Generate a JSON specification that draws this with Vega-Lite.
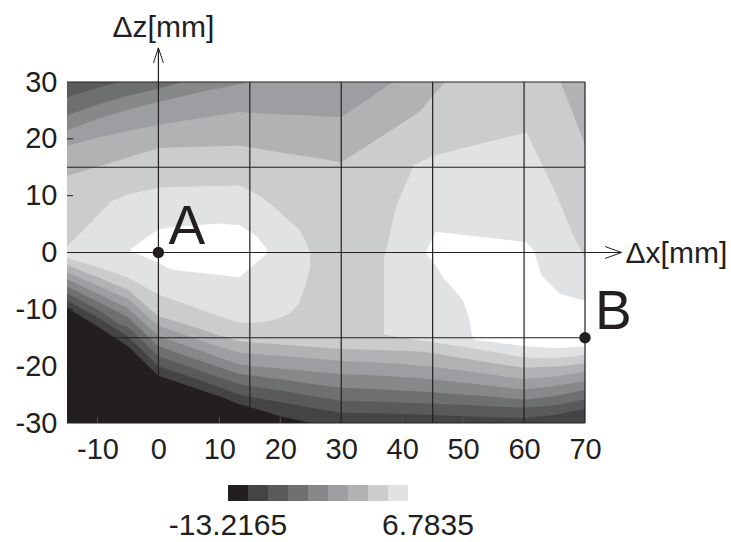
{
  "$schema": "https://vega.github.io/schema/vega-lite/v6.json",
  "width": 518,
  "height": 341,
  "autosize": {"type": "none"},
  "padding": {"left": 67, "top": 82, "right": 146, "bottom": 119},
  "background": "#ffffff",
  "config": {
    "view": {"stroke": null},
    "font": "Liberation Sans",
    "axis": {
      "labelFont": "Liberation Sans",
      "labelFontSize": 29,
      "labelColor": "#231f20",
      "labelFlush": false,
      "labelOverlap": false,
      "domain": false,
      "grid": false,
      "ticks": false,
      "labelPadding": 12
    }
  },
  "datasets": {
    "bands": [
      {"v": -12.2165, "poly": "a", "x": -15, "lo": -30, "hi": 30},
      {"v": -12.2165, "poly": "a", "x": 70, "lo": -30, "hi": 30},

      {"v": -10.2165, "poly": "a", "x": -15, "lo": -9.7, "hi": 30},
      {"v": -10.2165, "poly": "a", "x": -10, "lo": -13, "hi": 30},
      {"v": -10.2165, "poly": "a", "x": -5, "lo": -16.5, "hi": 30},
      {"v": -10.2165, "poly": "a", "x": 0, "lo": -21.7, "hi": 30},
      {"v": -10.2165, "poly": "a", "x": 5, "lo": -23.5, "hi": 30},
      {"v": -10.2165, "poly": "a", "x": 10, "lo": -25.3, "hi": 30},
      {"v": -10.2165, "poly": "a", "x": 13.3, "lo": -26.7, "hi": 30},
      {"v": -10.2165, "poly": "a", "x": 15, "lo": -27.2, "hi": 30},
      {"v": -10.2165, "poly": "a", "x": 20, "lo": -28.8, "hi": 30},
      {"v": -10.2165, "poly": "a", "x": 25, "lo": -30, "hi": 30},
      {"v": -10.2165, "poly": "a", "x": 70, "lo": -30, "hi": 30},

      {"v": -8.2165, "poly": "a", "x": -15, "lo": -8.5, "hi": 30},
      {"v": -8.2165, "poly": "a", "x": -10, "lo": -11.4, "hi": 30},
      {"v": -8.2165, "poly": "a", "x": -5, "lo": -14.8, "hi": 30},
      {"v": -8.2165, "poly": "a", "x": 0, "lo": -20, "hi": 30},
      {"v": -8.2165, "poly": "a", "x": 5, "lo": -21.8, "hi": 30},
      {"v": -8.2165, "poly": "a", "x": 10, "lo": -23.7, "hi": 30},
      {"v": -8.2165, "poly": "a", "x": 13.3, "lo": -25, "hi": 30},
      {"v": -8.2165, "poly": "a", "x": 15, "lo": -25.4, "hi": 30},
      {"v": -8.2165, "poly": "a", "x": 20, "lo": -26.3, "hi": 30},
      {"v": -8.2165, "poly": "a", "x": 25, "lo": -27.3, "hi": 30},
      {"v": -8.2165, "poly": "a", "x": 30, "lo": -28.2, "hi": 30},
      {"v": -8.2165, "poly": "a", "x": 35, "lo": -28.3, "hi": 30},
      {"v": -8.2165, "poly": "a", "x": 40, "lo": -28.4, "hi": 30},
      {"v": -8.2165, "poly": "a", "x": 45, "lo": -28.6, "hi": 30},
      {"v": -8.2165, "poly": "a", "x": 50, "lo": -28.8, "hi": 30},
      {"v": -8.2165, "poly": "a", "x": 55, "lo": -29, "hi": 30},
      {"v": -8.2165, "poly": "a", "x": 60, "lo": -29.1, "hi": 30},
      {"v": -8.2165, "poly": "a", "x": 65, "lo": -28.6, "hi": 30},
      {"v": -8.2165, "poly": "a", "x": 70, "lo": -27.5, "hi": 30},

      {"v": -6.2165, "poly": "a", "x": -15, "lo": -7.2, "hi": 27.3},
      {"v": -6.2165, "poly": "a", "x": -10, "lo": -10, "hi": 29},
      {"v": -6.2165, "poly": "a", "x": -6.5, "lo": -12.6, "hi": 30},
      {"v": -6.2165, "poly": "a", "x": -5, "lo": -13.1, "hi": 30},
      {"v": -6.2165, "poly": "a", "x": 0, "lo": -18.2, "hi": 30},
      {"v": -6.2165, "poly": "a", "x": 5, "lo": -20.1, "hi": 30},
      {"v": -6.2165, "poly": "a", "x": 10, "lo": -22, "hi": 30},
      {"v": -6.2165, "poly": "a", "x": 13.3, "lo": -23.2, "hi": 30},
      {"v": -6.2165, "poly": "a", "x": 15, "lo": -23.5, "hi": 30},
      {"v": -6.2165, "poly": "a", "x": 20, "lo": -24.3, "hi": 30},
      {"v": -6.2165, "poly": "a", "x": 25, "lo": -25.2, "hi": 30},
      {"v": -6.2165, "poly": "a", "x": 30, "lo": -26.1, "hi": 30},
      {"v": -6.2165, "poly": "a", "x": 35, "lo": -26.2, "hi": 30},
      {"v": -6.2165, "poly": "a", "x": 40, "lo": -26.4, "hi": 30},
      {"v": -6.2165, "poly": "a", "x": 45, "lo": -26.6, "hi": 30},
      {"v": -6.2165, "poly": "a", "x": 50, "lo": -26.8, "hi": 30},
      {"v": -6.2165, "poly": "a", "x": 55, "lo": -27.1, "hi": 30},
      {"v": -6.2165, "poly": "a", "x": 60, "lo": -27.3, "hi": 30},
      {"v": -6.2165, "poly": "a", "x": 65, "lo": -26.9, "hi": 30},
      {"v": -6.2165, "poly": "a", "x": 70, "lo": -25.8, "hi": 30},

      {"v": -4.2165, "poly": "a", "x": -15, "lo": -6, "hi": 24.1},
      {"v": -4.2165, "poly": "a", "x": -10, "lo": -8.6, "hi": 26},
      {"v": -4.2165, "poly": "a", "x": -5, "lo": -11.4, "hi": 27.6},
      {"v": -4.2165, "poly": "a", "x": 0, "lo": -16.5, "hi": 28.8},
      {"v": -4.2165, "poly": "a", "x": 4, "lo": -18, "hi": 30},
      {"v": -4.2165, "poly": "a", "x": 10, "lo": -20.2, "hi": 30},
      {"v": -4.2165, "poly": "a", "x": 13.3, "lo": -21.4, "hi": 30},
      {"v": -4.2165, "poly": "a", "x": 15, "lo": -21.6, "hi": 30},
      {"v": -4.2165, "poly": "a", "x": 20, "lo": -22.3, "hi": 30},
      {"v": -4.2165, "poly": "a", "x": 25, "lo": -23.1, "hi": 30},
      {"v": -4.2165, "poly": "a", "x": 30, "lo": -23.8, "hi": 30},
      {"v": -4.2165, "poly": "a", "x": 35, "lo": -24, "hi": 30},
      {"v": -4.2165, "poly": "a", "x": 40, "lo": -24.3, "hi": 30},
      {"v": -4.2165, "poly": "a", "x": 45, "lo": -24.6, "hi": 30},
      {"v": -4.2165, "poly": "a", "x": 50, "lo": -25, "hi": 30},
      {"v": -4.2165, "poly": "a", "x": 55, "lo": -25.4, "hi": 30},
      {"v": -4.2165, "poly": "a", "x": 60, "lo": -25.9, "hi": 30},
      {"v": -4.2165, "poly": "a", "x": 65, "lo": -25.3, "hi": 30},
      {"v": -4.2165, "poly": "a", "x": 70, "lo": -24.2, "hi": 30},

      {"v": -2.2165, "poly": "a", "x": -15, "lo": -4.7, "hi": 21.5},
      {"v": -2.2165, "poly": "a", "x": -10, "lo": -7.2, "hi": 23.5},
      {"v": -2.2165, "poly": "a", "x": -5, "lo": -9.8, "hi": 25.1},
      {"v": -2.2165, "poly": "a", "x": 0, "lo": -14.7, "hi": 26.5},
      {"v": -2.2165, "poly": "a", "x": 5, "lo": -16.6, "hi": 27.75},
      {"v": -2.2165, "poly": "a", "x": 8, "lo": -17.7, "hi": 28.5},
      {"v": -2.2165, "poly": "a", "x": 10, "lo": -18.5, "hi": 28.9},
      {"v": -2.2165, "poly": "a", "x": 13.3, "lo": -19.7, "hi": 29.6},
      {"v": -2.2165, "poly": "a", "x": 15, "lo": -19.9, "hi": 30},
      {"v": -2.2165, "poly": "a", "x": 20, "lo": -20.4, "hi": 30},
      {"v": -2.2165, "poly": "a", "x": 25, "lo": -20.9, "hi": 30},
      {"v": -2.2165, "poly": "a", "x": 30, "lo": -21.4, "hi": 30},
      {"v": -2.2165, "poly": "a", "x": 35, "lo": -21.6, "hi": 30},
      {"v": -2.2165, "poly": "a", "x": 40, "lo": -21.9, "hi": 30},
      {"v": -2.2165, "poly": "a", "x": 45, "lo": -22.3, "hi": 30},
      {"v": -2.2165, "poly": "a", "x": 50, "lo": -22.9, "hi": 30},
      {"v": -2.2165, "poly": "a", "x": 55, "lo": -23.5, "hi": 30},
      {"v": -2.2165, "poly": "a", "x": 60, "lo": -24.1, "hi": 30},
      {"v": -2.2165, "poly": "a", "x": 65, "lo": -23.5, "hi": 30},
      {"v": -2.2165, "poly": "a", "x": 70, "lo": -22.6, "hi": 30},

      {"v": -0.2165, "poly": "a", "x": -15, "lo": -3.5, "hi": 18.8},
      {"v": -0.2165, "poly": "a", "x": -10, "lo": -5.8, "hi": 20.2},
      {"v": -0.2165, "poly": "a", "x": -5, "lo": -8.2, "hi": 21.4},
      {"v": -0.2165, "poly": "a", "x": 0, "lo": -12.9, "hi": 22.5},
      {"v": -0.2165, "poly": "a", "x": 5, "lo": -14.8, "hi": 23.3},
      {"v": -0.2165, "poly": "a", "x": 10, "lo": -16.6, "hi": 24.2},
      {"v": -0.2165, "poly": "a", "x": 13.3, "lo": -17.6, "hi": 24.7},
      {"v": -0.2165, "poly": "a", "x": 15, "lo": -17.8, "hi": 24.6},
      {"v": -0.2165, "poly": "a", "x": 20, "lo": -18.2, "hi": 24.3},
      {"v": -0.2165, "poly": "a", "x": 25, "lo": -18.6, "hi": 24.1},
      {"v": -0.2165, "poly": "a", "x": 30, "lo": -19.1, "hi": 23.8},
      {"v": -0.2165, "poly": "a", "x": 35, "lo": -19.3, "hi": 27.4},
      {"v": -0.2165, "poly": "a", "x": 38.5, "lo": -19.5, "hi": 30},
      {"v": -0.2165, "poly": "a", "x": 40, "lo": -19.6, "hi": 30},
      {"v": -0.2165, "poly": "a", "x": 45, "lo": -20.1, "hi": 30},
      {"v": -0.2165, "poly": "a", "x": 50, "lo": -20.8, "hi": 30},
      {"v": -0.2165, "poly": "a", "x": 55, "lo": -21.5, "hi": 30},
      {"v": -0.2165, "poly": "a", "x": 60, "lo": -22.3, "hi": 30},
      {"v": -0.2165, "poly": "a", "x": 65, "lo": -21.8, "hi": 30},
      {"v": -0.2165, "poly": "a", "x": 70, "lo": -21, "hi": 30},

      {"v": 1.7835, "poly": "a", "x": -15, "lo": -2.2, "hi": 13.5},
      {"v": 1.7835, "poly": "a", "x": -10, "lo": -4.3, "hi": 15.1},
      {"v": 1.7835, "poly": "a", "x": -5, "lo": -6.6, "hi": 16.7},
      {"v": 1.7835, "poly": "a", "x": 0, "lo": -11.2, "hi": 18.4},
      {"v": 1.7835, "poly": "a", "x": 5, "lo": -12.8, "hi": 18.55},
      {"v": 1.7835, "poly": "a", "x": 10, "lo": -14.6, "hi": 18.7},
      {"v": 1.7835, "poly": "a", "x": 13.3, "lo": -15.6, "hi": 18.8},
      {"v": 1.7835, "poly": "a", "x": 15, "lo": -15.8, "hi": 18.5},
      {"v": 1.7835, "poly": "a", "x": 20, "lo": -16.2, "hi": 17.6},
      {"v": 1.7835, "poly": "a", "x": 25, "lo": -16.6, "hi": 16.8},
      {"v": 1.7835, "poly": "a", "x": 30, "lo": -17, "hi": 15.9},
      {"v": 1.7835, "poly": "a", "x": 35, "lo": -17.1, "hi": 19.3},
      {"v": 1.7835, "poly": "a", "x": 40, "lo": -17.3, "hi": 22.8},
      {"v": 1.7835, "poly": "a", "x": 42.8, "lo": -17.4, "hi": 24.7},
      {"v": 1.7835, "poly": "a", "x": 45, "lo": -17.7, "hi": 27.5},
      {"v": 1.7835, "poly": "a", "x": 47, "lo": -18.1, "hi": 30},
      {"v": 1.7835, "poly": "a", "x": 50, "lo": -18.6, "hi": 30},
      {"v": 1.7835, "poly": "a", "x": 55, "lo": -19.5, "hi": 30},
      {"v": 1.7835, "poly": "a", "x": 60, "lo": -20.3, "hi": 30},
      {"v": 1.7835, "poly": "a", "x": 66, "lo": -20, "hi": 30},
      {"v": 1.7835, "poly": "a", "x": 70, "lo": -19.5, "hi": 19},

      {"v": 3.7835, "poly": "L", "x": -15, "lo": -1, "hi": 1},
      {"v": 3.7835, "poly": "L", "x": -10, "lo": -2.5, "hi": 6.5},
      {"v": 3.7835, "poly": "L", "x": -7.7, "lo": -3.4, "hi": 9},
      {"v": 3.7835, "poly": "L", "x": -5, "lo": -4.4, "hi": 10.2},
      {"v": 3.7835, "poly": "L", "x": 0, "lo": -7.4, "hi": 11.4},
      {"v": 3.7835, "poly": "L", "x": 5, "lo": -9.3, "hi": 11.6},
      {"v": 3.7835, "poly": "L", "x": 10, "lo": -11.2, "hi": 11.7},
      {"v": 3.7835, "poly": "L", "x": 13.3, "lo": -12.35, "hi": 11.8},
      {"v": 3.7835, "poly": "L", "x": 16.6, "lo": -12.3, "hi": 10},
      {"v": 3.7835, "poly": "L", "x": 18.8, "lo": -11.9, "hi": 8.2},
      {"v": 3.7835, "poly": "L", "x": 21.5, "lo": -10.8, "hi": 5.5},
      {"v": 3.7835, "poly": "L", "x": 23.1, "lo": -8.9, "hi": 4.1},
      {"v": 3.7835, "poly": "L", "x": 24.2, "lo": -5.5, "hi": 1.8},
      {"v": 3.7835, "poly": "L", "x": 24.9, "lo": -2.5, "hi": 0},
      {"v": 3.7835, "poly": "R", "x": 37, "lo": -14.4, "hi": -1},
      {"v": 3.7835, "poly": "R", "x": 37.4, "lo": -14.5, "hi": 0.5},
      {"v": 3.7835, "poly": "R", "x": 39, "lo": -14.8, "hi": 8.2},
      {"v": 3.7835, "poly": "R", "x": 42, "lo": -15.3, "hi": 15.5},
      {"v": 3.7835, "poly": "R", "x": 45, "lo": -15.8, "hi": 17},
      {"v": 3.7835, "poly": "R", "x": 50, "lo": -16.6, "hi": 18.4},
      {"v": 3.7835, "poly": "R", "x": 55, "lo": -17.5, "hi": 19.7},
      {"v": 3.7835, "poly": "R", "x": 60.4, "lo": -18.5, "hi": 21.1},
      {"v": 3.7835, "poly": "R", "x": 64.8, "lo": -18.6, "hi": 11.4},
      {"v": 3.7835, "poly": "R", "x": 68, "lo": -18.3, "hi": 3.2},
      {"v": 3.7835, "poly": "R", "x": 70, "lo": -18, "hi": -1},

      {"v": 5.7835, "poly": "L", "x": -4.5, "lo": 0.2, "hi": 0.6},
      {"v": 5.7835, "poly": "L", "x": -2, "lo": -0.9, "hi": 2.6},
      {"v": 5.7835, "poly": "L", "x": 0, "lo": -1.8, "hi": 4.1},
      {"v": 5.7835, "poly": "L", "x": 2, "lo": -3, "hi": 4.4},
      {"v": 5.7835, "poly": "L", "x": 5, "lo": -3.4, "hi": 4.7},
      {"v": 5.7835, "poly": "L", "x": 10, "lo": -3.9, "hi": 5.1},
      {"v": 5.7835, "poly": "L", "x": 13.3, "lo": -4.4, "hi": 4.8},
      {"v": 5.7835, "poly": "L", "x": 16, "lo": -1.8, "hi": 3},
      {"v": 5.7835, "poly": "L", "x": 17.8, "lo": -0.2, "hi": 0.6},
      {"v": 5.7835, "poly": "R", "x": 44, "lo": -0.2, "hi": 0.3},
      {"v": 5.7835, "poly": "R", "x": 45.5, "lo": -2.3, "hi": 3.6},
      {"v": 5.7835, "poly": "R", "x": 46.7, "lo": -4.4, "hi": 3.5},
      {"v": 5.7835, "poly": "R", "x": 48.5, "lo": -6.5, "hi": 3.3},
      {"v": 5.7835, "poly": "R", "x": 50, "lo": -8.5, "hi": 3.1},
      {"v": 5.7835, "poly": "R", "x": 51, "lo": -11.5, "hi": 3},
      {"v": 5.7835, "poly": "R", "x": 51.4, "lo": -14.4, "hi": 2.95},
      {"v": 5.7835, "poly": "R", "x": 51.7, "lo": -15.3, "hi": 2.9},
      {"v": 5.7835, "poly": "R", "x": 55, "lo": -15.8, "hi": 2.5},
      {"v": 5.7835, "poly": "R", "x": 60.4, "lo": -16.5, "hi": 1.8},
      {"v": 5.7835, "poly": "R", "x": 61.6, "lo": -16.6, "hi": 0.3},
      {"v": 5.7835, "poly": "R", "x": 62.9, "lo": -16.7, "hi": -4.1},
      {"v": 5.7835, "poly": "R", "x": 65.9, "lo": -16.8, "hi": -7.3},
      {"v": 5.7835, "poly": "R", "x": 70, "lo": -16.5, "hi": -8.5}
    ],
    "vlines": [
      {"x": 0, "z1": -30, "z2": 36},
      {"x": 15, "z1": -30, "z2": 30},
      {"x": 30, "z1": -30, "z2": 30},
      {"x": 45, "z1": -30, "z2": 30},
      {"x": 60, "z1": -30, "z2": 30},
      {"x": 70, "z1": -30, "z2": 30}
    ],
    "hlines": [
      {"z": 0, "x1": -15, "x2": 76},
      {"z": 15, "x1": -15, "x2": 70},
      {"z": -15, "x1": -15, "x2": 70},
      {"z": 30, "x1": -15, "x2": 70},
      {"z": -30, "x1": -15, "x2": 70}
    ],
    "xticks": [
      {"x": -10, "z1": -30, "z2": -29}, {"x": 10, "z1": -30, "z2": -29}, {"x": 20, "z1": -30, "z2": -29},
      {"x": 40, "z1": -30, "z2": -29}, {"x": 50, "z1": -30, "z2": -29}
    ],
    "zticks": [
      {"z": -20, "x1": -15, "x2": -14}, {"z": -10, "x1": -15, "x2": -14},
      {"z": 10, "x1": -15, "x2": -14}, {"z": 20, "x1": -15, "x2": -14}
    ],
    "arrows": [
      {"x": 0, "z": 36, "dir": "up", "label": "Δz[mm]"},
      {"x": 76, "z": 0, "dir": "right", "label": "Δx[mm]"}
    ],
    "points": [
      {"x": 0, "z": 0, "label": "A"},
      {"x": 70, "z": -15, "label": "B"}
    ]
  },
  "layer": [
    {
      "data": {"name": "bands"},
      "encoding": {
        "x": {"field": "x", "type": "quantitative", "title": null, "scale": {"domain": [-15, 70], "nice": false, "zero": false}},
        "y": {"field": "lo", "type": "quantitative", "title": null, "stack": null, "scale": {"domain": [-30, 30], "nice": false, "zero": false}},
        "y2": {"field": "hi"},
        "detail": {"field": "poly"},
        "color": {
          "field": "v", "type": "quantitative",
          "scale": {"type": "quantize", "domain": [-13.2165, 6.7835], "nice": false, "zero": false,
                    "range": ["#231f20", "#444345", "#5a5a5c", "#6e6f71", "#87888a", "#9d9ea1", "#b1b2b4", "#cbcccd", "#e1e2e4", "#ffffff"]},
          "legend": {
            "orient": "none", "legendX": 161, "legendY": 403, "direction": "horizontal", "title": null,
            "gradientLength": 195, "gradientThickness": 20, "padding": 0,
            "values": [-13.3, -13.21649, -11.2155, -9.2155, -7.2155, -5.2155, -3.2155, -1.2155, 0.7845, 2.7845, 4.7845, 6.78349],
            "labelFont": "Liberation Sans", "labelFontSize": 30, "labelColor": "#231f20",
            "labelOffset": 10, "labelOverlap": false,
            "labelExpr": "abs(datum.value + 13.2165) < 0.001 || abs(datum.value - 6.7835) < 0.001 ? replace(format(datum.value, '.4f'), '\u2212', '-') : ''"
          }
        }
      },
      "layer": [
        {"transform": [{"filter": {"field": "v", "equal": -12.2165}}], "mark": {"type": "area", "opacity": 1}},
        {"transform": [{"filter": {"field": "v", "equal": -10.2165}}], "mark": {"type": "area", "opacity": 1}},
        {"transform": [{"filter": {"field": "v", "equal": -8.2165}}], "mark": {"type": "area", "opacity": 1}},
        {"transform": [{"filter": {"field": "v", "equal": -6.2165}}], "mark": {"type": "area", "opacity": 1}},
        {"transform": [{"filter": {"field": "v", "equal": -4.2165}}], "mark": {"type": "area", "opacity": 1}},
        {"transform": [{"filter": {"field": "v", "equal": -2.2165}}], "mark": {"type": "area", "opacity": 1}},
        {"transform": [{"filter": {"field": "v", "equal": -0.2165}}], "mark": {"type": "area", "opacity": 1}},
        {"transform": [{"filter": {"field": "v", "equal": 1.7835}}], "mark": {"type": "area", "opacity": 1}},
        {"transform": [{"filter": {"field": "v", "equal": 3.7835}}], "mark": {"type": "area", "opacity": 1}},
        {"transform": [{"filter": {"field": "v", "equal": 5.7835}}], "mark": {"type": "area", "opacity": 1}}
      ]
    },
    {
      "data": {"name": "vlines"},
      "mark": {"type": "rule", "color": "#231f20", "strokeWidth": 1.2},
      "encoding": {
        "x": {"field": "x", "type": "quantitative", "title": null, "scale": {"domain": [-15, 70], "nice": false, "zero": false}},
        "y": {"field": "z1", "type": "quantitative", "title": null, "scale": {"domain": [-30, 30], "nice": false, "zero": false}},
        "y2": {"field": "z2"}
      }
    },
    {
      "data": {"name": "hlines"},
      "mark": {"type": "rule", "color": "#231f20", "strokeWidth": 1.2},
      "encoding": {
        "y": {"field": "z", "type": "quantitative", "title": null, "scale": {"domain": [-30, 30], "nice": false, "zero": false}},
        "x": {"field": "x1", "type": "quantitative", "title": null, "scale": {"domain": [-15, 70], "nice": false, "zero": false}},
        "x2": {"field": "x2"}
      }
    },
    {
      "data": {"name": "xticks"},
      "mark": {"type": "rule", "color": "#555555", "strokeWidth": 1},
      "encoding": {
        "x": {"field": "x", "type": "quantitative", "title": null, "scale": {"domain": [-15, 70], "nice": false, "zero": false}},
        "y": {"field": "z1", "type": "quantitative", "title": null, "scale": {"domain": [-30, 30], "nice": false, "zero": false}},
        "y2": {"field": "z2"}
      }
    },
    {
      "data": {"name": "zticks"},
      "mark": {"type": "rule", "color": "#231f20", "strokeWidth": 1},
      "encoding": {
        "y": {"field": "z", "type": "quantitative", "title": null, "scale": {"domain": [-30, 30], "nice": false, "zero": false}},
        "x": {"field": "x1", "type": "quantitative", "title": null, "scale": {"domain": [-15, 70], "nice": false, "zero": false}},
        "x2": {"field": "x2"}
      }
    },
    {
      "data": {"name": "arrows"},
      "mark": {"type": "point", "filled": false, "stroke": "#231f20", "strokeWidth": 1, "size": 225, "opacity": 1},
      "encoding": {
        "x": {"field": "x", "type": "quantitative", "title": null, "scale": {"domain": [-15, 70], "nice": false, "zero": false}},
        "y": {"field": "z", "type": "quantitative", "title": null, "scale": {"domain": [-30, 30], "nice": false, "zero": false}},
        "shape": {"field": "dir", "type": "nominal", "legend": null,
                  "scale": {"domain": ["up", "right"], "range": ["M -0.66 2 L 0 0 L 0.66 2", "M -2.2 -0.8 L 0 0 L -2.2 0.8"]}}
      }
    },
    {
      "data": {"name": "arrows"},
      "transform": [{"filter": "datum.dir === 'up'"}],
      "mark": {"type": "text", "align": "center", "baseline": "alphabetic", "dx": 5, "dy": -11, "font": "Liberation Sans", "fontSize": 30, "color": "#231f20"},
      "encoding": {
        "x": {"field": "x", "type": "quantitative", "title": null, "scale": {"domain": [-15, 70], "nice": false, "zero": false}},
        "y": {"field": "z", "type": "quantitative", "title": null, "scale": {"domain": [-30, 30], "nice": false, "zero": false}},
        "text": {"field": "label"}
      }
    },
    {
      "data": {"name": "arrows"},
      "transform": [{"filter": "datum.dir === 'right'"}],
      "mark": {"type": "text", "align": "left", "baseline": "alphabetic", "dx": 4, "dy": 10, "font": "Liberation Sans", "fontSize": 30, "color": "#231f20"},
      "encoding": {
        "x": {"field": "x", "type": "quantitative", "title": null, "scale": {"domain": [-15, 70], "nice": false, "zero": false}},
        "y": {"field": "z", "type": "quantitative", "title": null, "scale": {"domain": [-30, 30], "nice": false, "zero": false}},
        "text": {"field": "label"}
      }
    },
    {
      "data": {"name": "points"},
      "mark": {"type": "circle", "size": 130, "color": "#231f20", "opacity": 1},
      "encoding": {
        "x": {"field": "x", "type": "quantitative", "title": null, "scale": {"domain": [-15, 70], "nice": false, "zero": false},
              "axis": {"values": [-10, 0, 10, 20, 30, 40, 50, 60, 70], "title": null, "labelExpr": "replace(datum.label, '\u2212', '-')"}},
        "y": {"field": "z", "type": "quantitative", "title": null, "scale": {"domain": [-30, 30], "nice": false, "zero": false},
              "axis": {"values": [-30, -20, -10, 0, 10, 20, 30], "title": null, "labelPadding": 10, "labelExpr": "replace(datum.label, '\u2212', '-')"}}
      }
    },
    {
      "data": {"name": "points"},
      "mark": {"type": "text", "align": "left", "baseline": "alphabetic", "dx": 10, "dy": -9, "font": "Liberation Sans", "fontSize": 55, "color": "#231f20"},
      "encoding": {
        "x": {"field": "x", "type": "quantitative", "title": null, "scale": {"domain": [-15, 70], "nice": false, "zero": false}},
        "y": {"field": "z", "type": "quantitative", "title": null, "scale": {"domain": [-30, 30], "nice": false, "zero": false}},
        "text": {"field": "label"}
      }
    }
  ]
}
